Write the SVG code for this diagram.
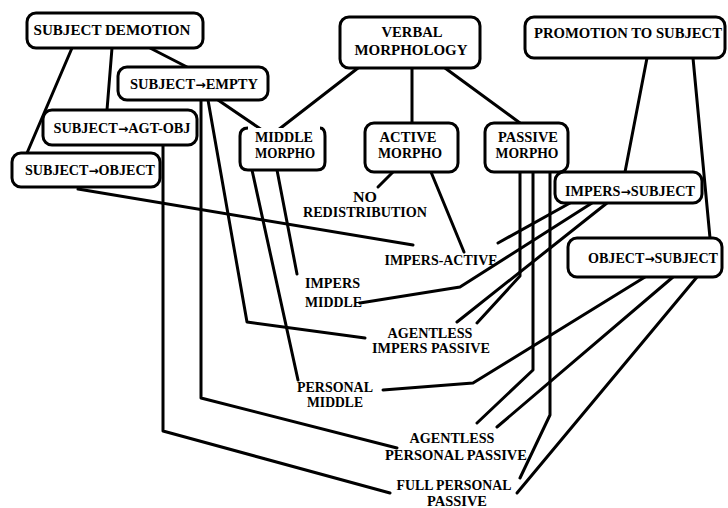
<svg xmlns="http://www.w3.org/2000/svg" width="728" height="508" viewBox="0 0 728 508">
<style>
.box{fill:#fff;stroke:#000;stroke-width:3}
.ln{fill:none;stroke:#000;stroke-width:3;stroke-linecap:round;stroke-linejoin:round}
text{font-family:"Liberation Serif","Times New Roman",serif;font-weight:bold;font-size:14px;fill:#000}
.c{text-anchor:middle}
.ar{font-family:"DejaVu Sans",sans-serif;font-size:12px}
</style>
<rect width="728" height="508" fill="#fff"/>
<g id="connectors">
<path class="ln" d="M72,48 L27,153"/>
<path class="ln" d="M112,48 L107,110"/>
<path class="ln" d="M150,48 L187,67"/>
<path class="ln" d="M218,100 L262,130"/>
<path class="ln" d="M358,68 L278,130"/>
<path class="ln" d="M412,68 L412,123"/>
<path class="ln" d="M445,68 L520,123"/>
<path class="ln" d="M647,58 L625,172"/>
<path class="ln" d="M693,58 L710,238"/>
<path class="ln" d="M393,172 L378,187"/>
<path class="ln" d="M431,172 L464,252"/>
<path class="ln" d="M78,189 L413,245"/>
<path class="ln" d="M163,145 L163,431 L390,493"/>
<path class="ln" d="M201,100 L201,398 L397,448"/>
<path class="ln" d="M208,100 L247,322 L365,338"/>
<path class="ln" d="M252,170 L298,380"/>
<path class="ln" d="M277,170 L297,274"/>
<path class="ln" d="M520,172 L520,276 L477,323"/>
<path class="ln" d="M533,172 L533,370 L477,423"/>
<path class="ln" d="M550,172 L550,415 L520,478"/>
<path class="ln" d="M570,203 L498,243"/>
<path class="ln" d="M592,203 L460,287 L360,303"/>
<path class="ln" d="M607,203 L457,322"/>
<path class="ln" d="M645,277 L473,383 L383,390"/>
<path class="ln" d="M673,277 L497,427"/>
<path class="ln" d="M697,277 L517,493"/>
</g>
<g id="subject-demotion"><rect class="box" x="27" y="13" width="176" height="35" rx="9"/><text class="c" x="112" y="35" textLength="157" lengthAdjust="spacingAndGlyphs">SUBJECT DEMOTION</text></g>
<g id="subject-empty"><rect class="box" x="118" y="67" width="150" height="33" rx="9"/><text class="c" x="194" y="89" textLength="128" lengthAdjust="spacingAndGlyphs">SUBJECT<tspan class="ar">→</tspan>EMPTY</text></g>
<g id="subject-agt-obj"><rect class="box" x="43" y="110" width="154" height="35" rx="9"/><text class="c" x="122" y="133" textLength="137" lengthAdjust="spacingAndGlyphs">SUBJECT<tspan class="ar">→</tspan>AGT-OBJ</text></g>
<g id="subject-object"><rect class="box" x="12" y="153" width="148" height="34" rx="9"/><text class="c" x="90" y="175" textLength="130" lengthAdjust="spacingAndGlyphs">SUBJECT<tspan class="ar">→</tspan>OBJECT</text></g>
<g id="verbal-morphology"><rect class="box" x="340" y="17" width="140" height="51" rx="9"/><text class="c" x="412" y="37" textLength="61" lengthAdjust="spacingAndGlyphs">VERBAL</text><text class="c" x="411" y="55" textLength="113" lengthAdjust="spacingAndGlyphs">MORPHOLOGY</text></g>
<g id="middle-morpho"><path class="box" d="M248,128 Q240,128 240,136 L240,162 Q240,170 248,170 L317,170 Q325,170 325,162 L325,136 Q325,128 320,128"/><text class="c" x="284" y="142" textLength="58" lengthAdjust="spacingAndGlyphs">MIDDLE</text><text class="c" x="285" y="158" textLength="60" lengthAdjust="spacingAndGlyphs">MORPHO</text></g>
<g id="active-morpho"><rect class="box" x="365" y="123" width="93" height="49" rx="9"/><text class="c" x="408" y="142" textLength="57" lengthAdjust="spacingAndGlyphs">ACTIVE</text><text class="c" x="410" y="158" textLength="64" lengthAdjust="spacingAndGlyphs">MORPHO</text></g>
<g id="passive-morpho"><rect class="box" x="485" y="123" width="83" height="49" rx="9"/><text class="c" x="528" y="142" textLength="60" lengthAdjust="spacingAndGlyphs">PASSIVE</text><text class="c" x="527" y="158" textLength="63" lengthAdjust="spacingAndGlyphs">MORPHO</text></g>
<g id="promotion-to-subject"><rect class="box" x="525" y="17" width="200" height="41" rx="9"/><text class="c" x="628" y="38" textLength="188" lengthAdjust="spacingAndGlyphs">PROMOTION TO SUBJECT</text></g>
<g id="impers-subject"><rect class="box" x="555" y="172" width="147" height="31" rx="9"/><text class="c" x="630" y="196" textLength="130" lengthAdjust="spacingAndGlyphs">IMPERS<tspan class="ar">→</tspan>SUBJECT</text></g>
<g id="object-subject"><rect class="box" x="568" y="238" width="154" height="39" rx="9"/><text class="c" x="653" y="263" textLength="130" lengthAdjust="spacingAndGlyphs">OBJECT<tspan class="ar">→</tspan>SUBJECT</text></g>
<g id="no-redistribution"><text class="c" x="365" y="202" textLength="24" lengthAdjust="spacingAndGlyphs">NO</text><text class="c" x="365" y="217" textLength="124" lengthAdjust="spacingAndGlyphs">REDISTRIBUTION</text></g>
<g id="impers-active"><text class="c" x="441" y="265" textLength="113" lengthAdjust="spacingAndGlyphs">IMPERS-ACTIVE</text></g>
<g id="impers-middle"><text x="305" y="288" textLength="55" lengthAdjust="spacingAndGlyphs">IMPERS</text><text x="305" y="307" textLength="57" lengthAdjust="spacingAndGlyphs">MIDDLE</text></g>
<g id="agentless-impers-passive"><text class="c" x="430" y="338" textLength="85" lengthAdjust="spacingAndGlyphs">AGENTLESS</text><text class="c" x="431" y="353" textLength="118" lengthAdjust="spacingAndGlyphs">IMPERS PASSIVE</text></g>
<g id="personal-middle"><text class="c" x="335" y="392" textLength="76" lengthAdjust="spacingAndGlyphs">PERSONAL</text><text class="c" x="335" y="407" textLength="56" lengthAdjust="spacingAndGlyphs">MIDDLE</text></g>
<g id="agentless-personal-passive"><text class="c" x="452" y="443" textLength="85" lengthAdjust="spacingAndGlyphs">AGENTLESS</text><text class="c" x="456" y="460" textLength="142" lengthAdjust="spacingAndGlyphs">PERSONAL PASSIVE</text></g>
<g id="full-personal-passive"><text class="c" x="454" y="490" textLength="115" lengthAdjust="spacingAndGlyphs">FULL PERSONAL</text><text class="c" x="457" y="506" textLength="60" lengthAdjust="spacingAndGlyphs">PASSIVE</text></g>
</svg>
